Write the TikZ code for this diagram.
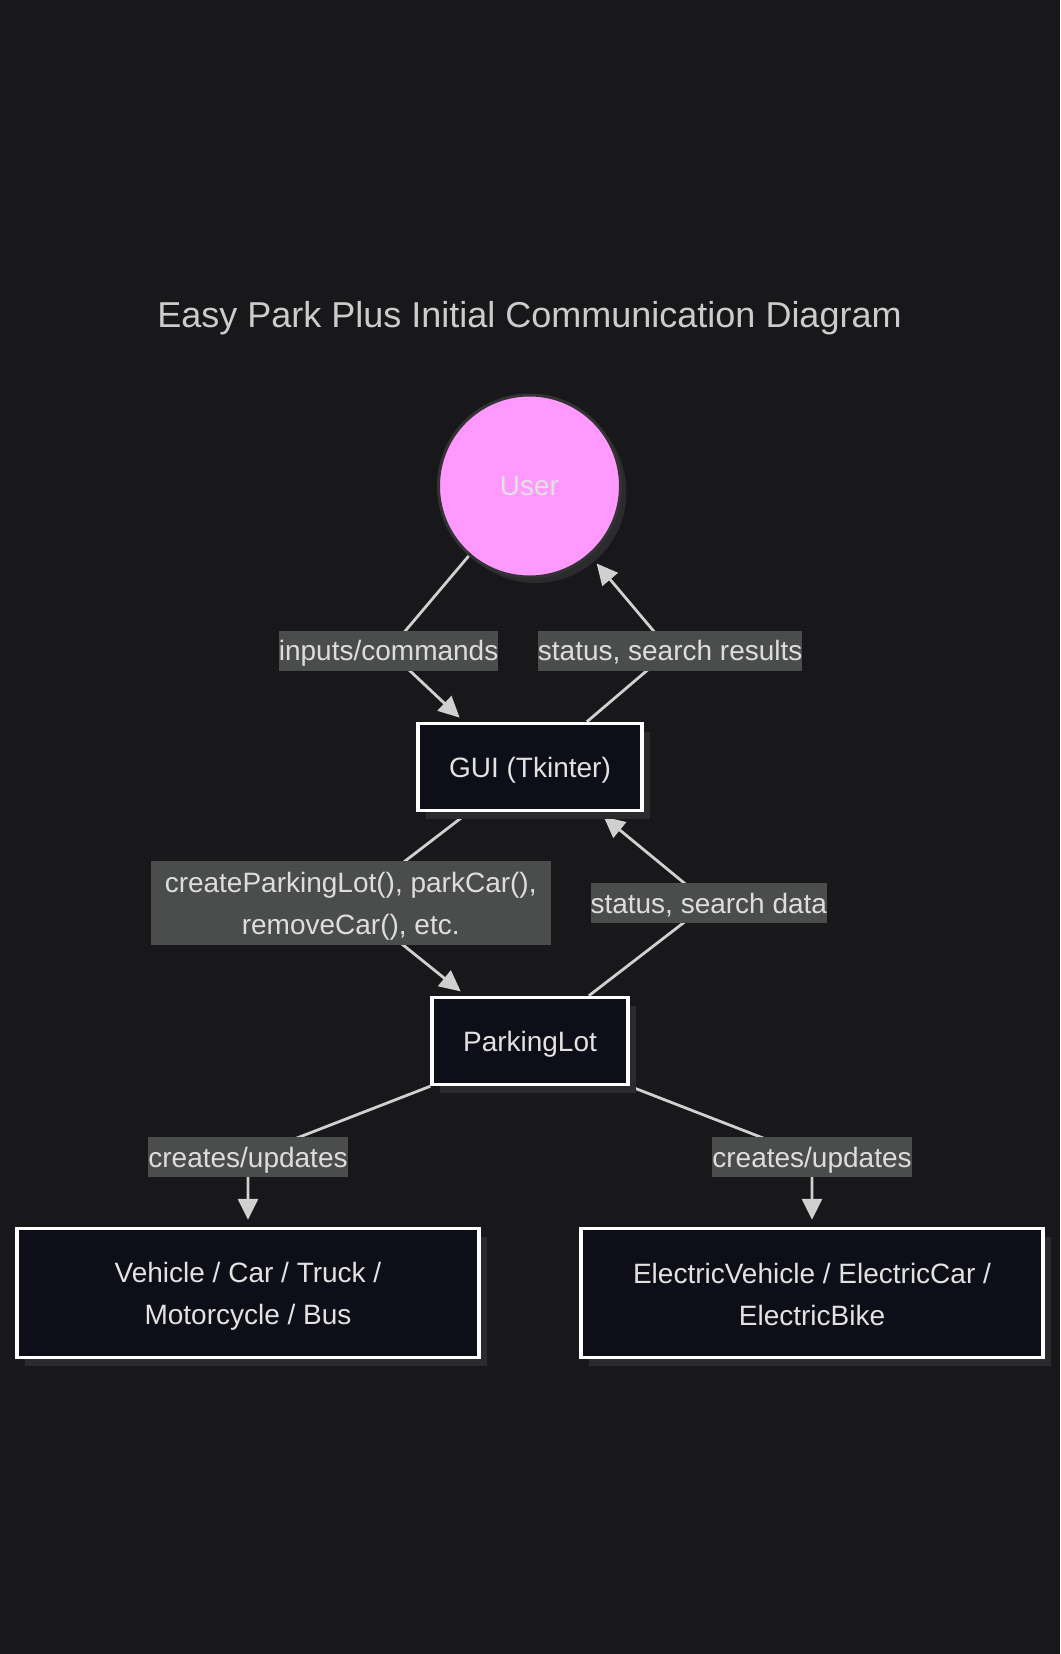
\documentclass[tikz,border=0pt]{standalone}
\usepackage{fontspec}
\setmainfont{Liberation Sans}
\usetikzlibrary{arrows.meta,calc,shadows}

\definecolor{pagebg}{HTML}{18181B}
\definecolor{titlecol}{HTML}{CCCCCC}
\definecolor{boxfill}{HTML}{0D0E17}
\definecolor{boxshadow}{HTML}{2B2B2D}
\definecolor{nodetext}{HTML}{E2E2E2}
\definecolor{lblbg}{HTML}{4B4C4C}
\definecolor{lbltext}{HTML}{DDDDDD}
\definecolor{edgecol}{HTML}{D0D0D0}
\definecolor{userfill}{HTML}{FF99FF}
\definecolor{userring}{HTML}{333333}

\pgfdeclarelayer{backdrop}
\pgfdeclarelayer{wires}
\pgfsetlayers{backdrop,wires,main}

\newcommand{\nodefont}{\fontsize{28}{42}\selectfont}
\newcommand{\titlefont}{\fontsize{36}{42}\selectfont}

\tikzset{
  boxnode/.style={draw=white, line width=3.5pt, fill=boxfill, text=nodetext,
    font=\nodefont, align=center, inner sep=0pt,
    drop shadow={shadow xshift=8pt, shadow yshift=-8pt, fill=boxshadow, opacity=1}},
  oneline/.style={text height=23pt, text depth=3pt},
  lblbase/.style={fill=lblbg, text=lbltext, font=\nodefont, inner sep=0pt,
    align=center},
  edgelbl/.style={lblbase, text height=23pt, text depth=3pt, minimum height=40pt},
  wire/.style={draw=edgecol, line width=2.8pt, line join=round,
    -{Triangle[length=21pt,width=20pt]}},
}

\begin{document}
\begin{tikzpicture}[x=1pt,y=-1pt]
\begin{pgfonlayer}{backdrop}
  \fill[pagebg] (0,0) rectangle (1060,1654);
\end{pgfonlayer}
\useasboundingbox (0,0) rectangle (1060,1654);

% title
\node[text=titlecol, font=\titlefont, inner sep=0pt] (title) at (529.5,318)
  {Easy Park Plus Initial Communication Diagram};

% nodes
\node[circle, minimum size=182pt, inner sep=0pt, fill=userfill,
      draw=userring, line width=3pt, text=nodetext, font=\nodefont,
      drop shadow={shadow xshift=6pt, shadow yshift=-6pt, fill=boxshadow, opacity=1}]
  (user) at (529.5,486) {User};
\node[boxnode, oneline, minimum width=224pt, minimum height=87pt] (gui) at (530,767) {GUI (Tkinter)};
\node[boxnode, oneline, minimum width=196pt, minimum height=87pt] (pl) at (530,1041) {ParkingLot};
\node[boxnode, minimum width=462pt, minimum height=129pt] (veh) at (248,1293)
  {\rule{0pt}{26pt}Vehicle / Car / Truck /\\Motorcycle / Bus};
\node[boxnode, minimum width=462pt, minimum height=129pt] (ev) at (812,1293)
  {\rule{0pt}{23pt}ElectricVehicle / ElectricCar /\\ElectricBike};

% edge labels
\node[edgelbl] (l1) at (388.6,650.7) {inputs/commands};
\node[edgelbl] (l2) at (670.2,650.7) {status, search results};
\node[lblbase, minimum width=400pt, minimum height=84pt] (l3) at (350.7,902.8)
  {\rule{0pt}{27pt}createParkingLot(), parkCar(),\\removeCar(), etc.};
\node[edgelbl] (l4) at (708.8,903.3) {status, search data};
\node[edgelbl] (l5) at (248,1157) {creates/updates};
\node[edgelbl] (l6) at (812,1157) {creates/updates};

% connectors
\begin{pgfonlayer}{wires}
  \draw[wire, shorten >=6pt] (user.229.4) -- (l1.center)
    -- ($(gui.north)!0.58!(gui.north west)$);
  \draw[wire, shorten >=10pt] ($(gui.north)!0.5!(gui.north east)$) -- (l2.center)
    -- (user.311.4);
  \draw[wire, shorten >=7pt] ($(gui.south)!0.54!(gui.south west)$) -- (l3.center)
    -- ($(pl.north)!0.64!(pl.north west)$);
  \draw[wire, shorten >=7pt] ($(pl.north)!0.59!(pl.north east)$) -- (l4.center)
    -- ($(gui.south)!0.6!(gui.south east)$);
  \draw[wire, shorten >=7pt] (pl.south west) -- (l5.center) -- (veh.north);
  \draw[wire, shorten >=7pt] (pl.south east) -- (l6.center) -- (ev.north);
\end{pgfonlayer}
\end{tikzpicture}
\end{document}
